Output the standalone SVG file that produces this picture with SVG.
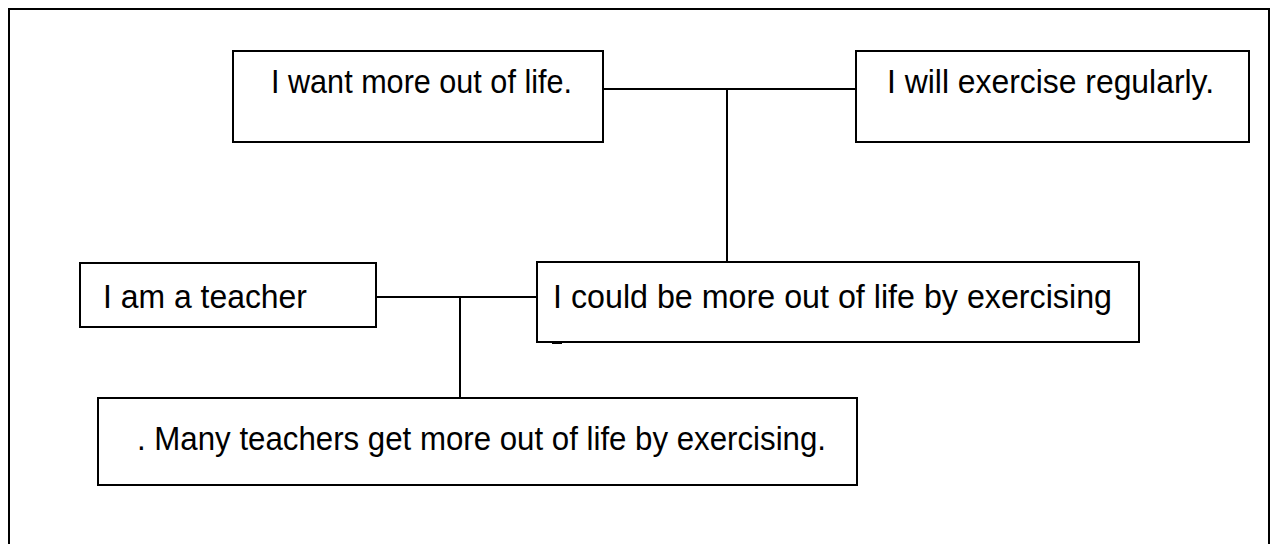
<svg xmlns="http://www.w3.org/2000/svg" width="1270" height="544" viewBox="0 0 1270 544">
  <style>
    .box { fill: #ffffff; stroke: #000000; stroke-width: 2; }
    .frame { fill: none; stroke: #000000; stroke-width: 2; }
    .link { fill: none; stroke: #000000; stroke-width: 2; }
    .label { font-family: "Liberation Sans", Arial, sans-serif; font-size: 33px; fill: #000000; }
  </style>
  <rect x="0" y="0" width="1270" height="544" fill="#ffffff"/>
  <!-- outer page frame -->
  <rect class="frame" x="9" y="9" width="1260" height="600"/>

  <!-- connectors -->
  <g id="connectors">
    <path class="link" d="M603 89 H856 M727 89 V262"/>
    <path class="link" d="M376 297 H537 M460 297 V398"/>
  </g>

  <g id="node-want">
    <rect class="box" x="233" y="51" width="370" height="91"/>
    <text class="label" x="271" y="93" textLength="301" lengthAdjust="spacingAndGlyphs">I want more out of life.</text>
  </g>

  <g id="node-exercise">
    <rect class="box" x="856" y="51" width="393" height="91"/>
    <text class="label" x="887" y="93" textLength="327" lengthAdjust="spacingAndGlyphs">I will exercise regularly.</text>
  </g>

  <g id="node-teacher">
    <rect class="box" x="80" y="263" width="296" height="64"/>
    <text class="label" x="103" y="308" textLength="204" lengthAdjust="spacingAndGlyphs">I am a teacher</text>
  </g>

  <g id="node-could">
    <rect class="box" x="537" y="262" width="602" height="80"/>
    <text class="label" x="553" y="308" textLength="559" lengthAdjust="spacingAndGlyphs">I could be more out of life by exercising</text>
    <path class="link" d="M552 343 H562"/>
  </g>

  <g id="node-many">
    <rect class="box" x="98" y="398" width="759" height="87"/>
    <text class="label" x="137" y="450" textLength="689" lengthAdjust="spacingAndGlyphs">. Many teachers get more out of life by exercising.</text>
  </g>
</svg>
